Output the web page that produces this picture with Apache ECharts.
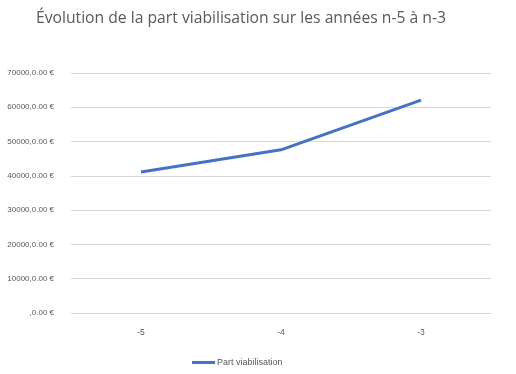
<!DOCTYPE html>
<html><head><meta charset="utf-8">
<script src="https://cdn.jsdelivr.net/npm/echarts@6/dist/echarts.min.js"></script>
<style>html,body{margin:0;padding:0;background:#fff}#c{width:516px;height:374px}</style>
</head><body><div id="c"></div>
<script>
const categories = ['-5', '-4', '-3'];
const partViabilisation = [41150, 47600, 62100];
const seriesName = 'Part viabilisation';
const titleText = 'Évolution de la part viabilisation sur les années n-5 à n-3';

const chart = echarts.init(document.getElementById('c'));
chart.setOption({
  animation: false,
  title: {
    text: titleText, left: 31, top: 6,
    textStyle: {fontFamily: 'Open Sans', fontSize: 15.7, fontWeight: 'normal', color: '#595959'}
  },
  grid: {left: 71, right: 25, top: 73, bottom: 61},
  legend: {
    top: 358, left: 192, padding: 0, itemWidth: 23, itemHeight: 3, itemGap: 4,
    icon: 'rect',
    textStyle: {fontFamily: 'Liberation Sans', fontSize: 9, color: '#595959', padding: [0,0,0,-3]},
    data: [seriesName]
  },
  xAxis: {
    type: 'category', data: categories, boundaryGap: true,
    axisLine: {lineStyle: {color: '#d9d9d9'}}, axisTick: {show: false},
    axisLabel: {fontFamily: 'Liberation Sans', fontSize: 8.5, color: '#595959', margin: 15}
  },
  yAxis: {
    type: 'value', min: 0, max: 70000, interval: 10000,
    axisLine: {show: false}, axisTick: {show: false},
    splitLine: {lineStyle: {color: '#d9d9d9'}},
    axisLabel: {fontFamily: 'Liberation Sans', fontSize: 8, color: '#595959', margin: 17,
      formatter: v => (v === 0 ? '' : String(v)) + ',0.00 €'}
  },
  series: [{
    name: seriesName, type: 'line', data: partViabilisation,
    symbol: 'none', lineStyle: {color: '#4472c4', width: 3}, itemStyle: {color: '#4472c4'}
  }]
});
</script></body></html>
